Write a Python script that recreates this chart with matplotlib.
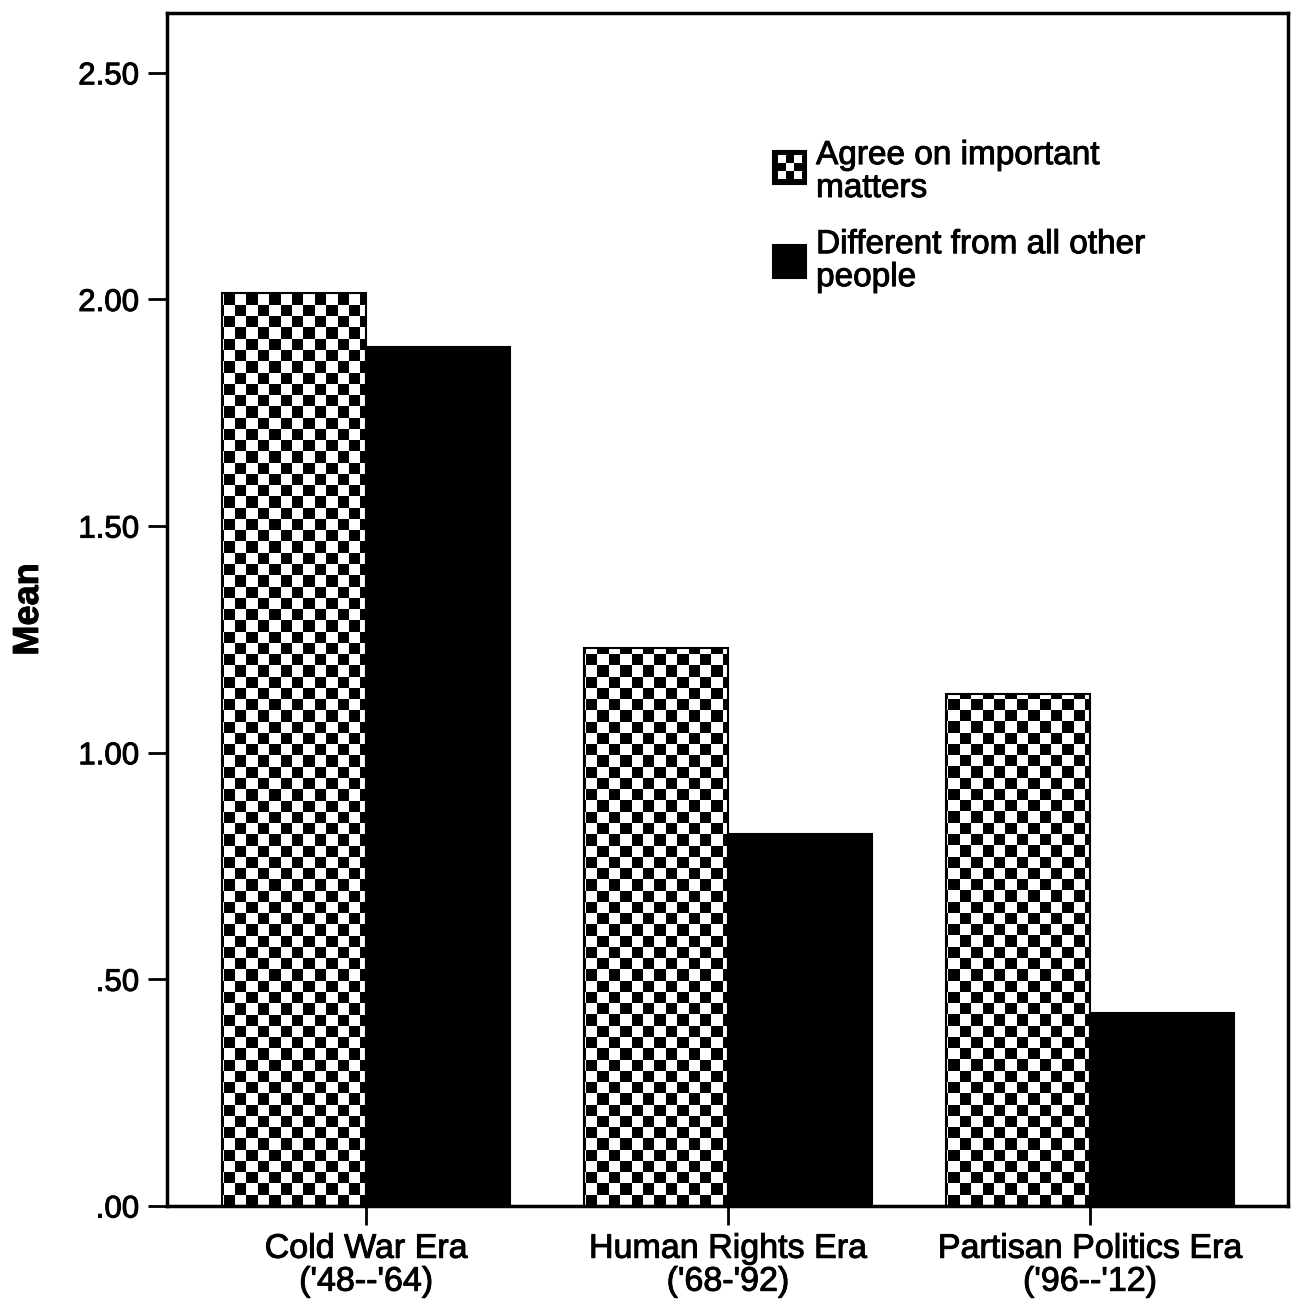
import numpy as np
import matplotlib.pyplot as plt
import matplotlib.patheffects as pe
from matplotlib.patches import Rectangle

# Werte
eras = ["Cold War Era\n('48--'64)", "Human Rights Era\n('68-'92)", "Partisan Politics Era\n('96--'12)"]
agree = [2.015, 1.23, 1.13]
different = [1.895, 0.82, 0.425]
series_names = ['Agree on important\nmatters', 'Different from all other\npeople']
yticks = [0, 0.5, 1.0, 1.5, 2.0, 2.5]
ytick_labels = ['.00', '.50', '1.00', '1.50', '2.00', '2.50']

plt.rcParams['font.family'] = ['Liberation Sans', 'DejaVu Sans']
# etwas kraeftigere Schrift wie im Original
thick = [pe.withStroke(linewidth=0.7, foreground='black')]

fig = plt.figure(figsize=(13.03, 13.12), dpi=100)
ax = fig.add_axes([0.12817, 0.08079, 0.86032, 0.9093])

xlim = (-0.55, 2.547)
ylim = (0, 2.632)

x = np.arange(len(eras))
w = 0.398

bars_agree = ax.bar(x - w/2, agree, w, facecolor='none', edgecolor='black', linewidth=1.5, zorder=3)
bars_diff = ax.bar(x + w/2, different, w, color='black', edgecolor='black', linewidth=1.5, zorder=3)

# Schachbrettmuster fuer die erste Reihe
nx, ny = 99, 106
checker = np.indices((ny, nx)).sum(axis=0) % 2
for b in bars_agree:
    im = ax.imshow(checker, cmap='gray', vmin=0, vmax=1, interpolation='nearest',
                   extent=(xlim[0], xlim[1], ylim[0], ylim[1]), aspect='auto', zorder=2)
    im.set_clip_path(b)

ax.set_xlim(*xlim)
ax.set_ylim(*ylim)

ax.set_xticks(x)
ax.set_xticklabels(eras, fontsize=24.5, linespacing=1.08)
ax.set_yticks(yticks)
ax.set_yticklabels(ytick_labels, fontsize=22.5)
ax.tick_params(direction='out', length=14, width=2, pad=6)
for s in ax.spines.values():
    s.set_linewidth(2.5)
for lab in ax.get_xticklabels() + ax.get_yticklabels():
    lab.set_path_effects(thick)

ax.set_ylabel('Mean', fontsize=26, fontweight='bold', path_effects=thick)
ax.yaxis.set_label_coords(-0.108, 0.5)

# Legende von Hand
hx, hw, hh = 0.5406, 0.0294, 0.0277
ax.add_patch(Rectangle((hx, 0.8567), hw, hh, transform=ax.transAxes, facecolor='black',
                       edgecolor='black', linewidth=1.5, zorder=5))
small = np.array([[1, 0, 1], [0, 1, 0], [1, 0, 1]])
pad = 0.004
ax.imshow(small, cmap='gray', vmin=0, vmax=1, interpolation='nearest', aspect='auto',
          extent=(hx + pad, hx + hw - pad, 0.8567 + pad, 0.8567 + hh - pad),
          transform=ax.transAxes, zorder=6)
ax.add_patch(Rectangle((hx, 0.778), hw, hh, transform=ax.transAxes, facecolor='black',
                       edgecolor='black', linewidth=1.5, zorder=5))
ax.text(0.579, 0.8667, series_names[0], transform=ax.transAxes, fontsize=24,
        va='center', ha='left', linespacing=1.08, path_effects=thick)
ax.text(0.579, 0.792, series_names[1], transform=ax.transAxes, fontsize=24,
        va='center', ha='left', linespacing=1.08, path_effects=thick)

ax.set_xlim(*xlim)
ax.set_ylim(*ylim)

fig.savefig('out.png', dpi=100)
